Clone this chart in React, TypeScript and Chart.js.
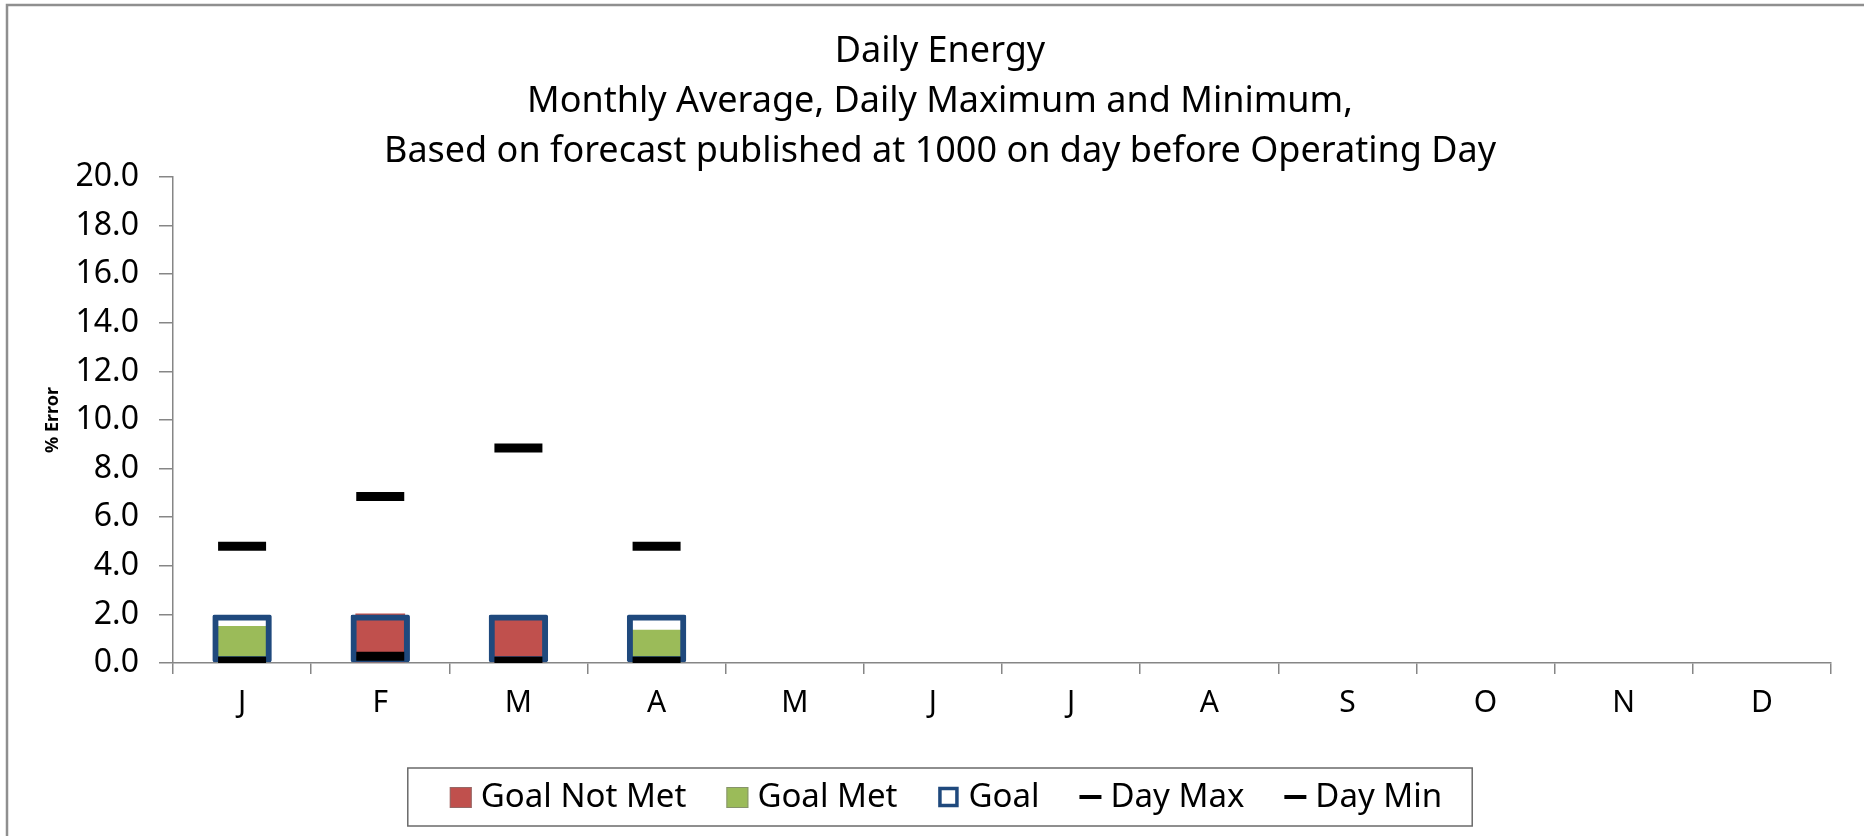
import React, { useEffect, useRef } from "react";
import { Chart, registerables } from "chart.js";

Chart.register(...registerables);

const FONT = "'Noto Sans', 'Open Sans', sans-serif";

const months = ["J", "F", "M", "A", "M", "J", "J", "A", "S", "O", "N", "D"];
const goalNotMet = [null, 2.04, 1.97, null, null, null, null, null, null, null, null, null];
const goalMet = [1.52, null, null, 1.37, null, null, null, null, null, null, null, null];
const goal = [2.0, 2.0, 2.0, 2.0, null, null, null, null, null, null, null, null];
const dayMax = [4.8, 6.85, 8.85, 4.8, null, null, null, null, null, null, null, null];
const dayMin = [0.07, 0.28, 0.07, 0.07, null, null, null, null, null, null, null, null];
const seriesNames = ["Goal Not Met", "Goal Met", "Goal", "Day Max", "Day Min"];
const titleLines = [
  "Daily Energy",
  "Monthly Average, Daily Maximum and Minimum,",
  "Based on forecast published at 1000 on day before Operating Day",
];
const yTickValues = { min: 0, max: 20, step: 2 };

const RED = "#C0504D";
const GREEN = "#9BBB59";
const BLUE = "#1F497D";
const AXIS = "#868686";

const frameAndLegend = {
  id: "frameAndLegend",
  afterDraw(chart: any) {
    const ctx = chart.ctx as CanvasRenderingContext2D;
    ctx.save();
    // outer frame (left and top visible)
    ctx.strokeStyle = "#8f8f8f";
    ctx.lineWidth = 2.5;
    ctx.beginPath();
    ctx.moveTo(7, 900);
    ctx.lineTo(7, 5);
    ctx.lineTo(1950, 5);
    ctx.stroke();

    // legend
    ctx.font = `33px ${FONT}`;
    const marker = 22;
    const gapText = 9;
    const gapItem = 40;
    const datasets = chart.data.datasets;
    const widths = datasets.map((d: any) => marker + gapText + ctx.measureText(d.label).width);
    const groupW = widths.reduce((a: number, b: number) => a + b, 0) + gapItem * (datasets.length - 1);
    const center = 940;
    const padL = 42;
    const padR = 30;
    const boxW = groupW + padL + padR;
    const boxL = center - boxW / 2;
    const boxT = 768;
    const boxH = 58;
    const cy = boxT + boxH / 2;
    ctx.strokeStyle = "#6a6a6a";
    ctx.lineWidth = 1.5;
    ctx.strokeRect(boxL, boxT, boxW, boxH);
    let x = boxL + padL;
    datasets.forEach((d: any, i: number) => {
      if (d.type === "line") {
        ctx.fillStyle = "#000";
        ctx.fillRect(x, cy - 2, marker, 4);
      } else if (d.label === "Goal") {
        ctx.fillStyle = "#fff";
        ctx.fillRect(x + 1, cy - 10, 20, 20);
        ctx.strokeStyle = BLUE;
        ctx.lineWidth = 3.5;
        ctx.strokeRect(x + 2.5, cy - 8.5, 17, 17);
      } else {
        ctx.fillStyle = d.backgroundColor;
        ctx.fillRect(x, cy - 10, marker, 21);
        ctx.strokeStyle = "rgba(120,120,120,0.6)";
        ctx.lineWidth = 1;
        ctx.strokeRect(x + 0.5, cy - 9.5, marker - 1, 20);
      }
      ctx.fillStyle = "#000";
      ctx.textBaseline = "middle";
      ctx.textAlign = "left";
      ctx.fillText(d.label, x + marker + gapText, cy + 1);
      x += widths[i] + gapItem;
    });
    ctx.restore();
  },
};

export default function App() {
  const canvasRef = useRef<HTMLCanvasElement | null>(null);

  useEffect(() => {
    if (!canvasRef.current) return;
    const chart = new Chart(canvasRef.current, {
      type: "bar",
      data: {
        labels: months,
        datasets: [
          {
            type: "bar",
            label: seriesNames[0],
            data: goalNotMet,
            backgroundColor: RED,
            grouped: false,
            categoryPercentage: 1,
            barPercentage: 0.36,
            order: 3,
          },
          {
            type: "bar",
            label: seriesNames[1],
            data: goalMet,
            backgroundColor: GREEN,
            grouped: false,
            categoryPercentage: 1,
            barPercentage: 0.36,
            order: 3,
          },
          {
            type: "bar",
            label: seriesNames[2],
            data: goal,
            backgroundColor: "rgba(0,0,0,0)",
            borderColor: BLUE,
            borderWidth: 6,
            borderRadius: 2,
            borderSkipped: false,
            grouped: false,
            categoryPercentage: 1,
            barPercentage: 0.43,
            order: 2,
          },
          {
            type: "line",
            label: seriesNames[3],
            data: dayMax,
            showLine: false,
            pointStyle: "line",
            pointRadius: 24,
            pointHoverRadius: 24,
            pointBorderWidth: 9,
            borderColor: "#000",
            backgroundColor: "#000",
            order: 1,
          },
          {
            type: "line",
            label: seriesNames[4],
            data: dayMin,
            showLine: false,
            pointStyle: "line",
            pointRadius: 24,
            pointHoverRadius: 24,
            pointBorderWidth: 9,
            borderColor: "#000",
            backgroundColor: "#000",
            order: 0,
          },
        ] as any,
      },
      options: {
        responsive: false,
        animation: false,
        layout: { padding: { left: 34, right: 18, top: 0, bottom: 113 } },
        plugins: {
          legend: { display: false },
          tooltip: { enabled: false },
          title: {
            display: true,
            text: titleLines,
            color: "#000",
            font: { family: FONT, size: 36, weight: "normal", lineHeight: 50 / 36 },
            padding: { top: 27, bottom: 0 },
          },
        },
        scales: {
          x: {
            afterFit: (s: any) => {
              s.height = 60;
            },
            grid: {
              drawOnChartArea: false,
              drawTicks: true,
              tickLength: 11,
              color: AXIS,
              lineWidth: 1.5,
            },
            border: { color: AXIS, width: 1.5 },
            ticks: {
              color: "#000",
              font: { family: FONT, size: 30 },
              padding: 11,
              maxRotation: 0,
              autoSkip: false,
            },
          },
          y: {
            min: yTickValues.min,
            max: yTickValues.max,
            afterFit: (s: any) => {
              s.width = 173 - 34;
            },
            grid: {
              drawOnChartArea: false,
              drawTicks: true,
              tickLength: 14,
              color: AXIS,
              lineWidth: 1.5,
            },
            border: { color: AXIS, width: 1.5 },
            ticks: {
              stepSize: yTickValues.step,
              color: "#000",
              font: { family: FONT, size: 32 },
              padding: 20,
              callback: (v: any) => Number(v).toFixed(1),
            },
            title: {
              display: true,
              text: "% Error",
              color: "#000",
              font: { family: FONT, size: 18, weight: "bold" },
              padding: { top: 8, bottom: 0 },
            },
          },
        },
      },
      plugins: [frameAndLegend],
    });
    return () => chart.destroy();
  }, []);

  return (
    <div style={{ position: "absolute", left: 0, top: 0, width: 1864, height: 836, background: "#fff" }}>
      <canvas ref={canvasRef} width={1864} height={836} style={{ width: 1864, height: 836, display: "block" }} />
    </div>
  );
}
